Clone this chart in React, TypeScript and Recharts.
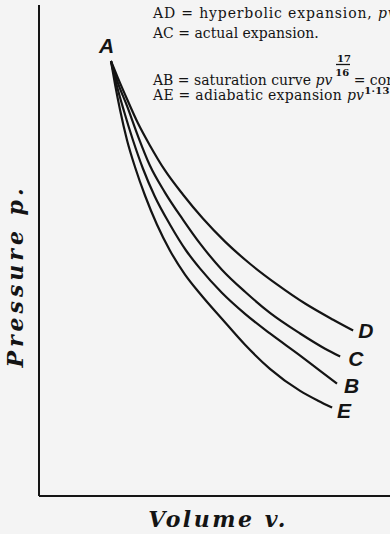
import React from "react";
import { LineChart, Line, XAxis, YAxis } from "recharts";

// Volume / pressure readings (arbitrary units, 0–10 on both axes)
const volumeD = [2.05, 2.25, 2.51, 2.82, 3.16, 3.59, 4.1, 4.67, 5.3, 6.01, 6.78, 7.58, 8.38, 8.95];
const pressureD = [8.86, 8.51, 8.08, 7.59, 7.14, 6.63, 6.14, 5.65, 5.18, 4.73, 4.31, 3.92, 3.59, 3.37];

const volumeC = [2.05, 2.25, 2.51, 2.82, 3.16, 3.59, 4.1, 4.59, 5.21, 5.87, 6.58, 7.44, 8.15, 8.58];
const pressureC = [8.86, 8.41, 7.94, 7.33, 6.73, 6.18, 5.63, 5.14, 4.61, 4.16, 3.73, 3.31, 3.0, 2.84];

const volumeB = [2.05, 2.22, 2.42, 2.68, 2.96, 3.3, 3.73, 4.19, 4.59, 5.21, 5.87, 6.58, 7.44, 8.01, 8.49];
const pressureB = [8.86, 8.35, 7.84, 7.24, 6.67, 6.1, 5.53, 5.0, 4.63, 4.14, 3.71, 3.31, 2.86, 2.55, 2.29];

const volumeE = [2.05, 2.17, 2.31, 2.51, 2.74, 3.02, 3.36, 3.73, 4.16, 4.59, 5.21, 5.87, 6.58, 7.44, 7.95, 8.35];
const pressureE = [8.86, 8.37, 7.86, 7.24, 6.69, 6.12, 5.53, 5.0, 4.51, 4.12, 3.61, 3.08, 2.59, 2.14, 1.94, 1.8];

const curveNames = ["D", "C", "B", "E"];
const startName = "A";

const toPoints = (v: number[], p: number[]) => v.map((x, i) => ({ v: x, p: p[i] }));

const seriesD = toPoints(volumeD, pressureD);
const seriesC = toPoints(volumeC, pressureC);
const seriesB = toPoints(volumeB, pressureB);
const seriesE = toPoints(volumeE, pressureE);

const INK = "#141414";
const labelFont = "'Liberation Sans', Arial, sans-serif";
const serif = "'DejaVu Serif', serif";

const endLabel =
  (name: string, n: number, dx: number, dy: number, start?: string) =>
  (props: any) => {
    const { x, y, index } = props;
    if (index === n - 1) {
      return (
        <text
          key={`end-${name}`}
          x={x + dx}
          y={y + dy}
          fontFamily={labelFont}
          fontStyle="italic"
          fontWeight="bold"
          fontSize={21}
          fill={INK}
        >
          {name}
        </text>
      );
    }
    if (index === 0 && start) {
      return (
        <text
          key={`start-${name}`}
          x={x - 12}
          y={y - 8}
          fontFamily={labelFont}
          fontStyle="italic"
          fontWeight="bold"
          fontSize={21}
          fill={INK}
        >
          {start}
        </text>
      );
    }
    return null;
  };

export default function App() {
  return (
    <div
      style={{
        position: "absolute",
        left: 0,
        top: 0,
        width: 390,
        height: 534,
        background: "#f4f4f4",
        overflow: "hidden",
      }}
    >
      <LineChart
        width={390}
        height={534}
        margin={{ top: 5, right: 0, bottom: 37, left: 38 }}
      >
        <XAxis
          type="number"
          dataKey="v"
          domain={[0, 10]}
          allowDataOverflow
          height={1}
          tick={false}
          tickLine={false}
          axisLine={{ stroke: INK, strokeWidth: 2 }}
        />
        <YAxis
          type="number"
          dataKey="p"
          domain={[0, 10]}
          allowDataOverflow
          width={1}
          tick={false}
          tickLine={false}
          axisLine={{ stroke: INK, strokeWidth: 2 }}
        />
        <Line
          data={seriesD}
          dataKey="p"
          type="monotone"
          stroke={INK}
          strokeWidth={2.2}
          dot={false}
          isAnimationActive={false}
          label={endLabel(curveNames[0], seriesD.length, 5, 7, startName)}
        />
        <Line
          data={seriesC}
          dataKey="p"
          type="monotone"
          stroke={INK}
          strokeWidth={2.2}
          dot={false}
          isAnimationActive={false}
          label={endLabel(curveNames[1], seriesC.length, 8, 9)}
        />
        <Line
          data={seriesB}
          dataKey="p"
          type="monotone"
          stroke={INK}
          strokeWidth={2.2}
          dot={false}
          isAnimationActive={false}
          label={endLabel(curveNames[2], seriesB.length, 7, 9)}
        />
        <Line
          data={seriesE}
          dataKey="p"
          type="monotone"
          stroke={INK}
          strokeWidth={2.2}
          dot={false}
          isAnimationActive={false}
          label={endLabel(curveNames[3], seriesE.length, 5, 10)}
        />
      </LineChart>
      <svg
        width={390}
        height={534}
        style={{ position: "absolute", left: 0, top: 0, pointerEvents: "none" }}
      >
        <g fontFamily={serif} fontSize={14} fill={INK}>
          <text x={153} y={18} letterSpacing={0.85}>
            AD = hyperbolic expansion, <tspan fontStyle="italic">pv</tspan> = const.
          </text>
          <text x={153} y={38}>AC = actual expansion.</text>
          <text x={337} y={62} fontSize={10} fontWeight="bold">17</text>
          <line x1={336} x2={350} y1={64.5} y2={64.5} stroke={INK} strokeWidth={1.3} />
          <text x={153} y={85}>
            AB = saturation curve <tspan fontStyle="italic">pv</tspan>
            <tspan dx={3} dy={-9} fontSize={10} fontWeight="bold">16</tspan>
            <tspan dy={9}> = const.</tspan>
          </text>
          <text x={153} y={100} letterSpacing={0.28}>
            AE = adiabatic expansion <tspan fontStyle="italic">pv</tspan>
            <tspan dy={-6} fontSize={10} fontWeight="bold">1·135</tspan>
            <tspan dy={6}> = const.</tspan>
          </text>
        </g>
        <text
          x={218}
          y={527}
          textAnchor="middle"
          fontFamily={serif}
          fontStyle="italic"
          fontWeight="bold"
          fontSize={22}
          letterSpacing={2.5}
          fill={INK}
        >
          Volume v.
        </text>
        <text
          x={23}
          y={276}
          textAnchor="middle"
          transform="rotate(-90, 23, 276)"
          fontFamily={serif}
          fontStyle="italic"
          fontWeight="bold"
          fontSize={22}
          letterSpacing={4}
          fill={INK}
        >
          Pressure p.
        </text>
      </svg>
    </div>
  );
}
